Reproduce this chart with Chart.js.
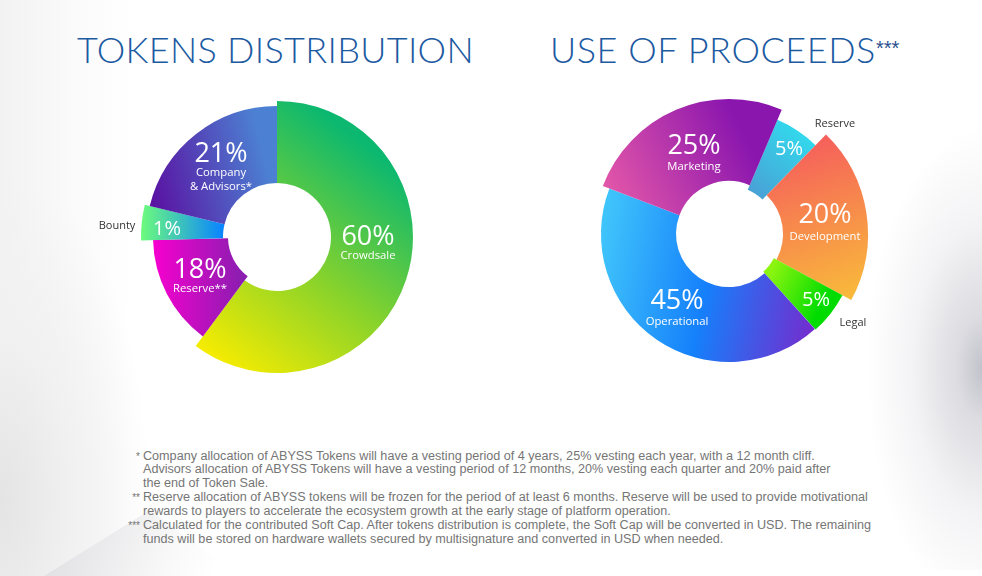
<!DOCTYPE html>
<html>
<head>
<meta charset="utf-8">
<title>Tokens distribution</title>
<script src="https://cdn.jsdelivr.net/npm/chart.js@4"></script>
<style>
html, body { margin: 0; padding: 0; }
body { width: 982px; height: 576px; position: relative; overflow: hidden; background: #fff; font-family: "Open Sans", sans-serif; }
#bg { position: absolute; inset: 0; background:
    radial-gradient(ellipse 150px 330px at 0 500px, #e4e4e5 0, #f1f1f2 50%, rgba(255,255,255,0) 100%),
    linear-gradient(90deg, #f2f2f3 0, #fafafa 70px, #fff 130px); }
#wedge { position: absolute; left: 0; top: 500px; width: 240px; height: 76px;
    background: linear-gradient(110deg, #dedee0 20%, #ebebed 45%, #f9f9f9 72%, #fff 90%);
    clip-path: polygon(44px 76px, 150px 10px, 240px 76px); }
#side { position: absolute; right: 0; top: 90px; width: 130px; height: 480px;
    background: radial-gradient(ellipse 115px 240px at 100% 58%, #c2c2cb 0, #dcdce1 22%, #f3f3f5 60%, rgba(255,255,255,0) 100%); }
h1 { position: absolute; margin: 0; top: 27px; font: 300 36px Lato, sans-serif; color: #1c5aa2; white-space: nowrap; }
h1 sup { font: 400 20px "Liberation Sans", sans-serif; line-height: 0; position: relative; top: -8px; vertical-align: baseline; letter-spacing: 0; color: #2a4f90; }
canvas { position: absolute; }
.chartBox { position: absolute; width: 360px; height: 360px; }
.lab { position: absolute; transform: translateX(-50%); text-align: center; color: #fff; white-space: nowrap; line-height: 1; }
.pct { font-size: 27px; display: block; }
.small .pct { font-size: 20px; }
.nm { font-size: 11.3px; display: block; line-height: 14px; }
.out { color: #333; font-size: 11px; }
#notes { position: absolute; left: 143px; top: 449.5px; width: 780px; font: 12.62px/13.9px "Liberation Sans", Arial, sans-serif; color: #757575; }
#notes p { margin: 0; position: relative; white-space: pre-line; }
#notes i { position: absolute; right: 100%; font-style: normal; margin-right: 3px; font-size: 10px; }
</style>
</head>
<body>
<div id="bg"></div>
<div id="wedge"></div>
<div id="side"></div>
<h1 style="left:77px;letter-spacing:.33px">TOKENS DISTRIBUTION</h1>
<h1 style="left:550px;letter-spacing:.55px">USE OF PROCEEDS<sup>***</sup></h1>

<div class="chartBox" style="left:97px;top:57px"><canvas id="tokensChart"></canvas></div>
<div class="chartBox" style="left:549px;top:54px"><canvas id="proceedsChart"></canvas></div>

<div id="notes"></div>

<script>
// 数据: the slices are drawn at the size they have in the picture, the printed % differs for some
const tokenCategories = ['Crowdsale', 'Reserve**', 'Bounty', 'Company\n& Advisors*'];
const tokenSlices = [60.2, 14.4, 4.2, 21.2];
const tokenPercents = ['60%', '18%', '1%', '21%'];

const proceedCategories = ['Reserve', 'Development', 'Legal', 'Operational', 'Marketing'];
const proceedSlices = [5.9, 20.6, 5.4, 42.5, 25.6];
const proceedPercents = ['5%', '20%', '5%', '45%', '25%'];

const footnoteMarks = ['*', '**', '***'];
const footnotes = [
    'Company allocation of ABYSS Tokens will have a vesting period of 4 years, 25% vesting each year, with a 12 month cliff.\nAdvisors allocation of ABYSS Tokens will have a vesting period of 12 months, 20% vesting each quarter and 20% paid after\nthe end of Token Sale.',
    'Reserve allocation of ABYSS tokens will be frozen for the period of at least 6 months. Reserve will be used to provide motivational\nrewards to players to accelerate the ecosystem growth at the early stage of platform operation.',
    'Calculated for the contributed Soft Cap. After tokens distribution is complete, the Soft Cap will be converted in USD. The remaining\nfunds will be stored on hardware wallets secured by multisignature and converted in USD when needed.'
];

// 每个扇形的半径 (px)
const tokenRadii = [[54, 136], [49, 124], [54, 136], [54, 131]];
const proceedRadii = [[48, 124], [54, 139], [51, 129], [53, 128], [53, 135]];

// 渐变 [x0, y0, x1, y1, colors] relative to the donut centre
const tokenGradients = [
    [90, -90, -70, 120, ['#0cb86f', '#86d22c', '#f8ec00']],
    [-124, 10, -34, 10, ['#f700cf', '#8a1eb0']],
    [-136, 0, -55, 0, ['#6dfb7c', '#0a86ff']],
    [-120, 0, 0, -30, ['#5a0ea0', '#4c80d2']]
];
const proceedGradients = [
    [20, -40, 80, -110, ['#4a9fd4', '#2fe0f0']],
    [50, -100, 110, 70, ['#f5565f', '#f9bb3a']],
    [45, 30, 100, 60, ['#8cf50f', '#00dc00']],
    [-125, 0, 90, 40, ['#3fc3fb', '#1580fb', '#7030d0']],
    [-125, -30, 15, -100, ['#e85aa8', '#8a16ae']]
];

// 每个扇形单独的内外半径
const radiiPlugin = {
    id: 'sliceRadii',
    afterDatasetsUpdate(chart, args, opts) {
        chart.getDatasetMeta(0).data.forEach((arc, i) => {
            arc.innerRadius = opts.radii[i][0];
            arc.outerRadius = opts.radii[i][1];
        });
    }
};

function makeGradient(ctx, chart, g) {
    const c = chart.width / 2;
    const grad = ctx.createLinearGradient(c + g[0], c + g[1], c + g[2], c + g[3]);
    g[4].forEach((col, i) => grad.addColorStop(i / (g[4].length - 1), col));
    return grad;
}

function drawDonut(id, categories, slices, radii, gradients, rotation) {
    const canvas = document.getElementById(id);
    canvas.width = 360;
    canvas.height = 360;
    const ctx = canvas.getContext('2d');
    return new Chart(ctx, {
        type: 'doughnut',
        data: {
            labels: categories,
            datasets: [{
                data: slices,
                borderWidth: 0,
                backgroundColor: (c) => makeGradient(ctx, c.chart, gradients[c.dataIndex % gradients.length])
            }]
        },
        options: {
            responsive: false,
            animation: false,
            rotation: rotation,
            layout: { padding: 0 },
            plugins: {
                legend: { display: false },
                tooltip: { enabled: false },
                sliceRadii: { radii: radii }
            }
        },
        plugins: [radiiPlugin]
    });
}

drawDonut('tokensChart', tokenCategories, tokenSlices, tokenRadii, tokenGradients, 0);
drawDonut('proceedsChart', proceedCategories, proceedSlices, proceedRadii, proceedGradients, 23);

// 文字标签
function addLabel(x, y, pct, name, outside, small) {
    const el = document.createElement('div');
    el.className = small ? 'lab small' : 'lab';
    el.style.left = x + 'px';
    el.style.top = y + 'px';
    if (pct) {
        const p = document.createElement('span');
        p.className = 'pct';
        p.textContent = pct;
        el.appendChild(p);
    }
    if (name) {
        const n = document.createElement('span');
        n.className = outside ? 'out' : 'nm';
        n.style.whiteSpace = 'pre';
        n.textContent = name;
        el.appendChild(n);
    }
    document.body.appendChild(el);
}

addLabel(368, 221, tokenPercents[0], tokenCategories[0]);
addLabel(200, 254, tokenPercents[1], tokenCategories[1]);
addLabel(167, 218, tokenPercents[2], '', false, true);
addLabel(117, 215, '', tokenCategories[2], true);
addLabel(221, 138, tokenPercents[3], tokenCategories[3]);

addLabel(789, 138, proceedPercents[0], '', false, true);
addLabel(835, 113, '', proceedCategories[0], true);
addLabel(825, 199, proceedPercents[1], '');
addLabel(825, 229, '', proceedCategories[1]);
addLabel(816, 289, proceedPercents[2], '', false, true);
addLabel(853, 312, '', proceedCategories[2], true);
addLabel(677, 285, proceedPercents[3], '');
addLabel(677, 314, '', proceedCategories[3]);
addLabel(694, 130, proceedPercents[4], '');
addLabel(694, 159, '', proceedCategories[4]);

// 脚注
footnotes.forEach((text, i) => {
    const p = document.createElement('p');
    const m = document.createElement('i');
    m.textContent = footnoteMarks[i];
    p.appendChild(m);
    p.appendChild(document.createTextNode(text));
    document.getElementById('notes').appendChild(p);
});
</script>
</body>
</html>
